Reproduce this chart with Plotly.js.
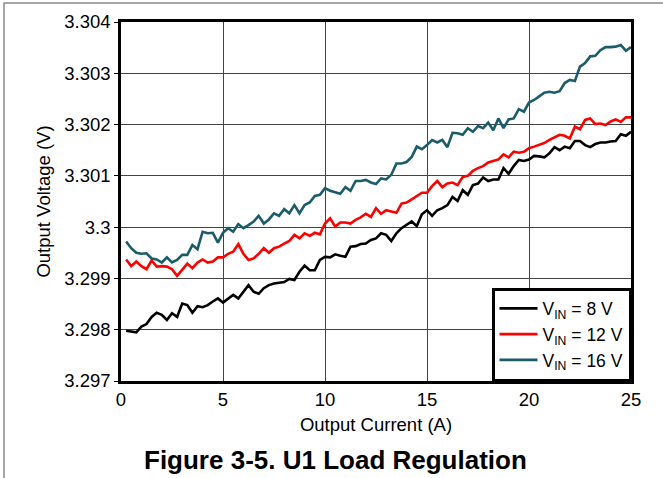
<!DOCTYPE html>
<html>
<head>
<meta charset="utf-8">
<script src="https://cdn.plot.ly/plotly-3.0.1.min.js"></script>
<style>
html,body{margin:0;padding:0;background:#fff;}
#chart{width:663px;height:478px;}
</style>
</head>
<body>
<div id="chart"></div>
<script>
// Output current (A)
const current = [
 0.25,0.5,0.75,1,1.25,1.5,1.75,2,2.25,2.5,2.75,3,3.25,3.5,3.75,4,4.25,4.5,4.75,5,
 5.25,5.5,5.75,6,6.25,6.5,6.75,7,7.25,7.5,7.75,8,8.25,8.5,8.75,9,9.25,9.5,9.75,10,
 10.25,10.5,10.75,11,11.25,11.5,11.75,12,12.25,12.5,12.75,13,13.25,13.5,13.75,14,14.25,14.5,14.75,15,
 15.25,15.5,15.75,16,16.25,16.5,16.75,17,17.25,17.5,17.75,18,18.25,18.5,18.75,19,19.25,19.5,19.75,20,
 20.25,20.5,20.75,21,21.25,21.5,21.75,22,22.25,22.5,22.75,23,23.25,23.5,23.75,24,24.25,24.5,24.75,25
];

// Output voltage (V), VIN = 8 V
const vin8 = [
 3.29798,3.29797,3.29795,3.29806,3.29811,3.29825,3.29833,3.29829,3.29819,3.29832,3.29825,3.29851,3.29848,3.29833,3.29846,3.29844,3.29848,3.29855,3.29861,3.29853,
 3.29860,3.29868,3.29861,3.29875,3.29887,3.29874,3.29870,3.29881,3.29887,3.29890,3.29892,3.29893,3.29899,3.29897,3.29913,3.29925,3.29916,3.29916,3.29936,3.29942,
 3.29941,3.29947,3.29944,3.29942,3.29962,3.29963,3.29967,3.29968,3.29975,3.29978,3.29988,3.29985,3.29973,3.29988,3.29998,3.30004,3.30011,3.30002,3.30025,3.30033,
 3.30022,3.30033,3.30037,3.30043,3.30059,3.30051,3.30072,3.30063,3.30082,3.30085,3.30097,3.30090,3.30093,3.30093,3.30115,3.30104,3.30119,3.30131,3.30129,3.30132,
 3.30139,3.30138,3.30136,3.30144,3.30156,3.30150,3.30157,3.30154,3.30168,3.30168,3.30160,3.30156,3.30162,3.30165,3.30165,3.30167,3.30168,3.30181,3.30178,3.30186
];

// Output voltage (V), VIN = 12 V
const vin12 = [
 3.29937,3.29924,3.29933,3.29924,3.29918,3.29935,3.29923,3.29924,3.29923,3.29918,3.29905,3.29918,3.29929,3.29920,3.29931,3.29937,3.29931,3.29933,3.29941,3.29941,
 3.29948,3.29952,3.29967,3.29948,3.29936,3.29939,3.29948,3.29959,3.29950,3.29959,3.29962,3.29968,3.29973,3.29985,3.29978,3.29988,3.29983,3.29989,3.29986,3.30007,
 3.30017,3.30001,3.30009,3.30009,3.30007,3.30014,3.30019,3.30026,3.30020,3.30037,3.30026,3.30033,3.30030,3.30028,3.30046,3.30048,3.30054,3.30061,3.30067,3.30067,
 3.30080,3.30090,3.30078,3.30085,3.30087,3.30082,3.30098,3.30100,3.30110,3.30115,3.30119,3.30126,3.30129,3.30132,3.30142,3.30136,3.30147,3.30145,3.30147,3.30154,
 3.30157,3.30160,3.30164,3.30170,3.30175,3.30180,3.30178,3.30173,3.30196,3.30191,3.30209,3.30212,3.30201,3.30202,3.30199,3.30206,3.30210,3.30205,3.30214,3.30214
];

// Output voltage (V), VIN = 16 V
const vin16 = [
 3.29972,3.29959,3.29950,3.29948,3.29949,3.29939,3.29937,3.29931,3.29941,3.29931,3.29936,3.29946,3.29946,3.29965,3.29957,3.29991,3.29988,3.29989,3.29970,3.29989,
 3.29998,3.29991,3.30006,3.29998,3.30004,3.30011,3.30022,3.30007,3.30015,3.30027,3.30022,3.30035,3.30027,3.30043,3.30027,3.30043,3.30048,3.30061,3.30063,3.30076,
 3.30071,3.30068,3.30065,3.30078,3.30071,3.30090,3.30090,3.30092,3.30087,3.30084,3.30095,3.30093,3.30102,3.30124,3.30124,3.30127,3.30137,3.30157,3.30152,3.30160,
 3.30170,3.30165,3.30170,3.30156,3.30184,3.30183,3.30180,3.30193,3.30186,3.30197,3.30193,3.30204,3.30189,3.30212,3.30193,3.30210,3.30212,3.30230,3.30225,3.30243,
 3.30248,3.30255,3.30262,3.30264,3.30262,3.30265,3.30281,3.30287,3.30285,3.30313,3.30320,3.30333,3.30334,3.30345,3.30351,3.30351,3.30352,3.30355,3.30344,3.30351
];

const seriesNames = ["V<sub>IN</sub> = 8 V", "V<sub>IN</sub> = 12 V", "V<sub>IN</sub> = 16 V"];
const seriesColors = ["#000000", "#ff0000", "#1a5c6b"];

const yTickVals = [3.297, 3.298, 3.299, 3.3, 3.301, 3.302, 3.303, 3.304];
const yTickText = ["3.297", "3.298", "3.299", "3.3", "3.301", "3.302", "3.303", "3.304"];
const xTickVals = [0, 5, 10, 15, 20, 25];
const xTickText = ["0", "5", "10", "15", "20", "25"];

const xTitle = "Output Current (A)";
const yTitle = "Output Voltage (V)";
const caption = "Figure 3-5. U1 Load Regulation";

const ys = [vin8, vin12, vin16];
const traces = ys.map((y, i) => ({
  x: current, y: y, type: "scatter", mode: "lines",
  name: seriesNames[i],
  line: {color: seriesColors[i], width: 2.6}
}));

const FONT = "Liberation Sans, Arial, sans-serif";
const FS = 18.5;

const layout = {
  width: 663, height: 478,
  margin: {l: 121, r: 32, t: 22, b: 97},
  paper_bgcolor: "#fff", plot_bgcolor: "#fff",
  showlegend: true,
  font: {family: FONT, color: "#000", size: FS},
  xaxis: {
    range: [0, 25], tickvals: xTickVals, ticktext: xTickText,
    showgrid: true, gridcolor: "#444", gridwidth: 1,
    showline: true, mirror: true, linecolor: "#000", linewidth: 2.5,
    ticks: "", zeroline: false,
    tickfont: {family: FONT, size: FS, color: "#000"},
    title: {text: xTitle, font: {family: FONT, size: FS, color: "#000"}, standoff: 10}
  },
  yaxis: {
    range: [3.297, 3.304], tickvals: yTickVals, ticktext: yTickText,
    showgrid: true, gridcolor: "#444", gridwidth: 1,
    showline: true, mirror: true, linecolor: "#000", linewidth: 2.5,
    ticks: "outside", ticklen: 4, tickcolor: "#000", zeroline: false,
    tickfont: {family: FONT, size: FS, color: "#000"},
    title: {text: yTitle, font: {family: FONT, size: FS, color: "#000"}, standoff: 9}
  },
  legend: {
    x: 1, xanchor: "right", y: 0, yanchor: "bottom",
    bgcolor: "#fff", bordercolor: "#000", borderwidth: 2.5,
    font: {family: FONT, size: 17.5, color: "#000"},
    tracegroupgap: 0, itemwidth: 38
  },
  annotations: [{
    text: "<b>" + caption + "</b>", xref: "paper", yref: "paper",
    x: 0.42, y: -0.22, xanchor: "center", yanchor: "middle",
    showarrow: false, font: {family: FONT, size: 26, color: "#000"}
  }],
  shapes: [
    {type: "line", xref: "paper", yref: "paper", x0: -0.23, x1: 1.07, y0: 1.053, y1: 1.053, line: {color: "#888", width: 1.5}},
    {type: "line", xref: "paper", yref: "paper", x0: -0.2294, x1: -0.2294, y0: -0.28, y1: 1.053, line: {color: "#888", width: 1.5}}
  ]
};

Plotly.newPlot("chart", traces, layout, {displayModeBar: false, responsive: false});
</script>
</body>
</html>
